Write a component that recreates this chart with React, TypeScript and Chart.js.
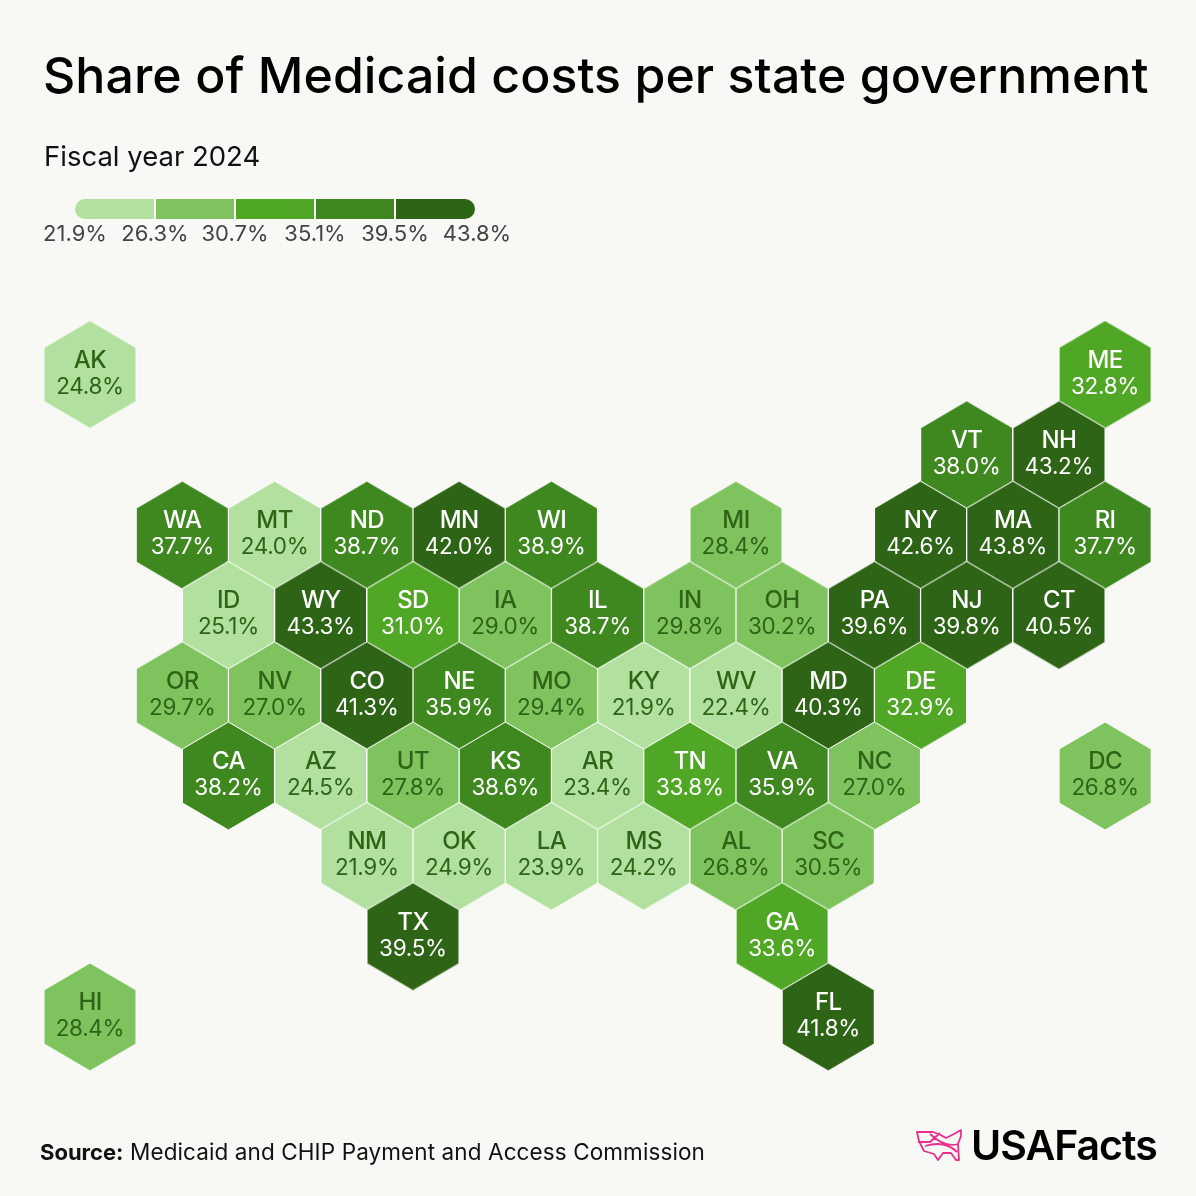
import React, { useEffect, useRef } from "react"
import Chart from "chart.js/auto"

const states = [
    "AK", "ME",
    "VT", "NH",
    "WA", "MT", "ND", "MN", "WI", "MI", "NY", "MA", "RI",
    "ID", "WY", "SD", "IA", "IL", "IN", "OH", "PA", "NJ", "CT",
    "OR", "NV", "CO", "NE", "MO", "KY", "WV", "MD", "DE",
    "CA", "AZ", "UT", "KS", "AR", "TN", "VA", "NC", "DC",
    "NM", "OK", "LA", "MS", "AL", "SC",
    "TX", "GA",
    "HI", "FL",
]
const columns = [
    0, 22,
    19, 21,
    2, 4, 6, 8, 10, 14, 18, 20, 22,
    3, 5, 7, 9, 11, 13, 15, 17, 19, 21,
    2, 4, 6, 8, 10, 12, 14, 16, 18,
    3, 5, 7, 9, 11, 13, 15, 17, 22,
    6, 8, 10, 12, 14, 16,
    7, 15,
    0, 16,
]
const rows = [
    0, 0,
    1, 1,
    2, 2, 2, 2, 2, 2, 2, 2, 2,
    3, 3, 3, 3, 3, 3, 3, 3, 3, 3,
    4, 4, 4, 4, 4, 4, 4, 4, 4,
    5, 5, 5, 5, 5, 5, 5, 5, 5,
    6, 6, 6, 6, 6, 6,
    7, 7,
    8, 8,
]
const shares = [
    24.8, 32.8,
    38.0, 43.2,
    37.7, 24.0, 38.7, 42.0, 38.9, 28.4, 42.6, 43.8, 37.7,
    25.1, 43.3, 31.0, 29.0, 38.7, 29.8, 30.2, 39.6, 39.8, 40.5,
    29.7, 27.0, 41.3, 35.9, 29.4, 21.9, 22.4, 40.3, 32.9,
    38.2, 24.5, 27.8, 38.6, 23.4, 33.8, 35.9, 27.0, 26.8,
    21.9, 24.9, 23.9, 24.2, 26.8, 30.5,
    39.5, 33.6,
    28.4, 41.8,
]
const breaks = [21.9, 26.3, 30.7, 35.1, 39.5, 43.8]
const binColors = ["#b2e19f", "#7fc35f", "#4fa725", "#3f8820", "#2e6415"]

const FONT = "Inter, sans-serif"
const BACKGROUND = "#f8f8f4"

const binOf = (value: number) => {
    for (let i = binColors.length - 1; i > 0; i--) {
        if (value >= breaks[i]) return i
    }
    return 0
}

// sprite used as pointStyle, one per colour
const makeHex = (color: string) => {
    const w = 93
    const h = 108
    const c = document.createElement("canvas")
    c.width = w
    c.height = h
    const ctx = c.getContext("2d")!
    ctx.beginPath()
    ctx.moveTo(w / 2, 0)
    ctx.lineTo(w - 0.5, h * 0.25)
    ctx.lineTo(w - 0.5, h * 0.75)
    ctx.lineTo(w / 2, h)
    ctx.lineTo(0.5, h * 0.75)
    ctx.lineTo(0.5, h * 0.25)
    ctx.closePath()
    ctx.fillStyle = color
    ctx.fill()
    ctx.strokeStyle = "#ffffff"
    ctx.lineWidth = 1
    ctx.stroke()
    return c
}

const drawText = (
    ctx: CanvasRenderingContext2D,
    text: string,
    x: number,
    y: number,
    font: string,
    color: string,
    align: CanvasTextAlign = "left",
    spacing = "0px"
) => {
    ctx.font = font
    ctx.fillStyle = color
    ctx.textAlign = align
    ;(ctx as any).letterSpacing = spacing
    ctx.fillText(text, x, y)
}

const hexLabels = {
    id: "hexLabels",
    afterDatasetsDraw(chart: Chart) {
        const ctx = chart.ctx
        const points = chart.getDatasetMeta(0).data
        ctx.save()
        ctx.textBaseline = "alphabetic"
        points.forEach((p, i) => {
            const color = binOf(shares[i]) < 2 ? "#2e6415" : "#ffffff"
            drawText(ctx, states[i], p.x, p.y - 7, `500 24px ${FONT}`, color, "center", "-0.6px")
            drawText(ctx, shares[i].toFixed(1) + "%", p.x, p.y + 19, `400 22.5px ${FONT}`, color, "center", "-0.3px")
        })
        ctx.restore()
    },
}

const furniture = {
    id: "furniture",
    beforeDraw(chart: Chart) {
        const ctx = chart.ctx
        ctx.save()
        ctx.fillStyle = BACKGROUND
        ctx.fillRect(0, 0, chart.width, chart.height)

        drawText(ctx, "Share of Medicaid costs per state government", 43, 93, `500 50px ${FONT}`, "#000000", "left", "0.05px")
        drawText(ctx, "Fiscal year 2024", 44, 166, `400 27.5px ${FONT}`, "#111111")

        // legend bar
        const x0 = 75
        const step = 80
        ctx.save()
        ctx.beginPath()
        ctx.roundRect(x0, 199, step * binColors.length, 20, 10)
        ctx.clip()
        binColors.forEach((color, i) => {
            ctx.fillStyle = color
            ctx.fillRect(x0 + step * i, 199, step, 20)
        })
        ctx.fillStyle = "#ffffff"
        for (let i = 1; i < binColors.length; i++) ctx.fillRect(x0 + step * i - 1, 199, 2, 20)
        ctx.restore()
        breaks.forEach((b, i) => {
            const x = i === breaks.length - 1 ? x0 + step * i + 2 : x0 + step * i
            drawText(ctx, b.toFixed(1) + "%", x, 241, `400 22px ${FONT}`, "#444444", "center")
        })

        // footer
        drawText(ctx, "Source:", 40, 1160, `700 22px ${FONT}`, "#111111")
        drawText(ctx, "Medicaid and CHIP Payment and Access Commission", 130, 1160, `400 22.5px ${FONT}`, "#111111", "left", "0.1px")

        // logo
        ctx.strokeStyle = "#e8308c"
        ctx.lineWidth = 1.8
        ctx.lineJoin = "round"
        ctx.beginPath()
        ctx.moveTo(917, 1132)
        ctx.lineTo(933, 1132)
        ctx.quadraticCurveTo(940, 1134, 946, 1138)
        ctx.lineTo(954, 1134)
        ctx.lineTo(961, 1130)
        ctx.lineTo(961, 1136)
        ctx.lineTo(958, 1144)
        ctx.lineTo(959, 1160)
        ctx.lineTo(956, 1160)
        ctx.lineTo(951, 1153)
        ctx.lineTo(943, 1153)
        ctx.lineTo(938, 1160)
        ctx.lineTo(934, 1154)
        ctx.lineTo(924, 1151)
        ctx.lineTo(919, 1141)
        ctx.closePath()
        ctx.moveTo(918, 1142)
        ctx.lineTo(930, 1142)
        ctx.lineTo(940, 1133)
        ctx.moveTo(930, 1134)
        ctx.quadraticCurveTo(945, 1148, 958, 1144)
        ctx.moveTo(925, 1146)
        ctx.quadraticCurveTo(945, 1140, 957, 1152)
        ctx.stroke()

        drawText(ctx, "USAFacts", 971, 1160, `600 41px ${FONT}`, "#000000", "left", "-1px")
        ctx.restore()
    },
}

const HexMap = () => {
    const chartRef = useRef<HTMLCanvasElement | null>(null)

    useEffect(() => {
        document.body.style.background = BACKGROUND
        const ctx = chartRef.current?.getContext("2d")
        if (!ctx) return
        const sprites = binColors.map(makeHex)

        const chart = new Chart(ctx, {
            type: "scatter",
            data: {
                labels: states,
                datasets: [
                    {
                        data: states.map((_, i) => ({ x: columns[i], y: rows[i] })),
                        pointStyle: shares.map((v) => sprites[binOf(v)]),
                        clip: false,
                    } as any,
                ],
            },
            options: {
                animation: false,
                responsive: false,
                devicePixelRatio: 1,
                layout: { padding: 0, autoPadding: false },
                plugins: { legend: { display: false }, tooltip: { enabled: false } },
                scales: {
                    x: { type: "linear", display: false, min: -90 / 46.14, max: (1196 - 90) / 46.14 },
                    y: { type: "linear", display: false, reverse: true, min: -374.5 / 80.3, max: (1196 - 374.5) / 80.3 },
                },
            },
            plugins: [furniture, hexLabels],
        })

        return () => chart.destroy()
    }, [])

    return <canvas ref={chartRef} width={1196} height={1196} style={{ position: "absolute", left: 0, top: 0 }} />
}

export default function App() {
    return <HexMap />
}
